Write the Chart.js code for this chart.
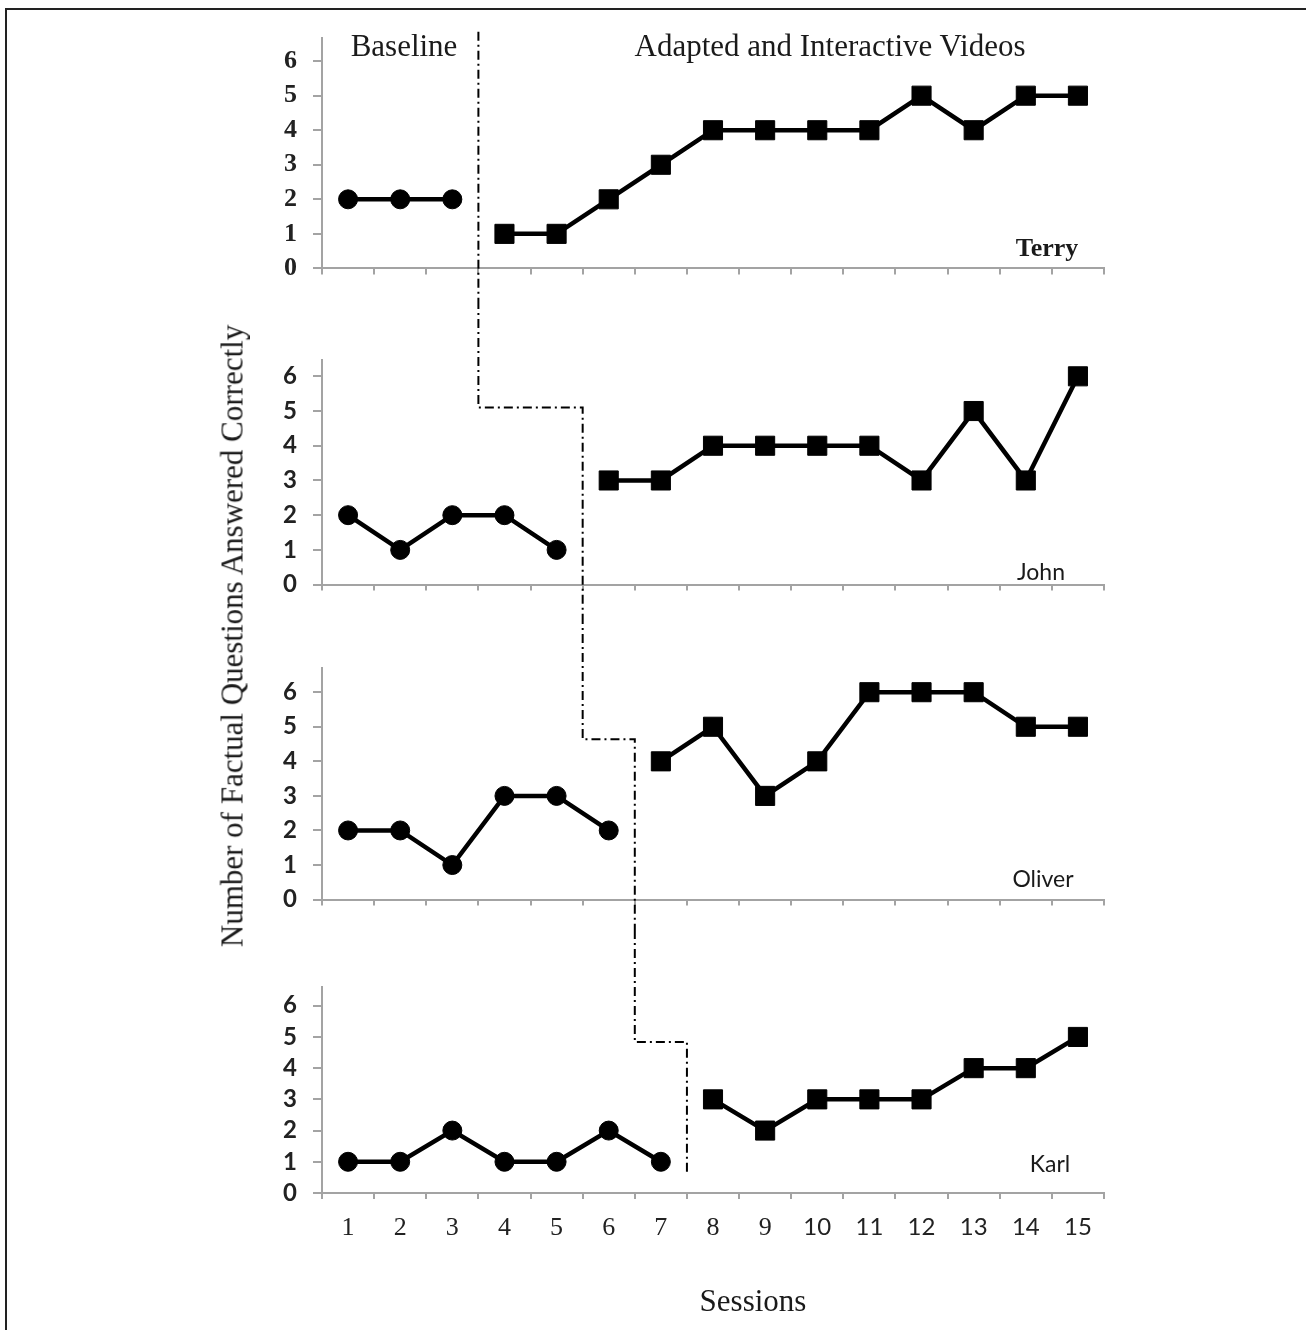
<!DOCTYPE html>
<html>
<head>
<meta charset="utf-8">
<script src="https://cdn.jsdelivr.net/npm/chart.js@4.4.1/dist/chart.umd.min.js"></script>
<style>
  html, body { margin: 0; background: #fff; width: 1306px; height: 1330px; overflow: hidden; }
  body { position: relative; }
  canvas { position: absolute; left: 0; }
  .rule { position: absolute; background: #222; }
  .lbl { position: absolute; white-space: nowrap; color: #1a1a1a; line-height: 1; transform: translate(-50%, -50%); }
  .serif { font-family: 'Liberation Serif', serif; }
  .sans { font-family: Lato, sans-serif; }
</style>
</head>
<body>
<div class="rule" style="left:5px; top:8px; width:1301px; height:2px"></div>
<div class="rule" style="left:5px; top:8px; width:2px; height:1322px"></div>
<canvas id="terry" width="1306" height="300" style="top:0px"></canvas>
<canvas id="john" width="1306" height="315" style="top:300px"></canvas>
<canvas id="oliver" width="1306" height="315" style="top:615px"></canvas>
<canvas id="karl" width="1306" height="400" style="top:930px"></canvas>

<div class="lbl serif" style="left:404px; top:45px; font-size:31px">Baseline</div>
<div class="lbl serif" style="left:830px; top:45px; font-size:31px">Adapted and Interactive Videos</div>
<div class="lbl serif" style="left:1047px; top:248px; font-size:26px; font-weight:bold">Terry</div>
<div class="lbl sans" style="left:1041px; top:571px; font-size:23px">John</div>
<div class="lbl sans" style="left:1043px; top:878px; font-size:23px">Oliver</div>
<div class="lbl sans" style="left:1050px; top:1163px; font-size:23px">Karl</div>
<div class="lbl serif" style="left:753px; top:1300px; font-size:31px">Sessions</div>
<div class="lbl serif" style="left:232px; top:636px; font-size:31px; transform: translate(-50%, -50%) rotate(-90deg)">Number of Factual Questions Answered Correctly</div>

<script>
const sessions = ['1', '2', '3', '4', '5', '6', '7', '8', '9', '10', '11', '12', '13', '14', '15'];

const terryBaseline = [2, 2, 2];
const terryVideos = [1, 1, 2, 3, 4, 4, 4, 4, 5, 4, 5, 5];
const johnBaseline = [2, 1, 2, 2, 1];
const johnVideos = [3, 3, 4, 4, 4, 4, 3, 5, 3, 6];
const oliverBaseline = [2, 2, 1, 3, 3, 2];
const oliverVideos = [4, 5, 3, 4, 6, 6, 6, 5, 5];
const karlBaseline = [1, 1, 2, 1, 1, 2, 1];
const karlVideos = [3, 2, 3, 3, 3, 4, 4, 5];

const yTicks = [0, 1, 2, 3, 4, 5, 6];
const yMax = [6.67, 6.47, 6.7, 6.6];

// phase change line: last baseline session it leaves from / steps to, and the level of the step
const phaseFrom = [3, 3, 5, 6];
const phaseTo = [3, 5, 6, 7];
const phaseStep = [null, 5.1, 4.64, 4.84];
const phaseStart = 6.85;
const phaseEnd = 0.64;

const AXIS = '#a3a3a3';
const SERIF = "'Liberation Serif', serif";
const SANS = 'Lato, sans-serif';

const phasePlugin = {
    id: 'phaseLine',
    afterDraw(chart, args, opts) {
        const { ctx, scales: { x, y } } = chart;
        const edge = s => (x.getPixelForValue(s - 1) + x.getPixelForValue(s)) / 2;
        const x1 = edge(opts.from);
        const x2 = edge(opts.to);
        const yTop = opts.start == null ? 0 : y.getPixelForValue(opts.start);
        const yEnd = opts.end == null ? chart.height : y.getPixelForValue(opts.end);
        ctx.save();
        ctx.strokeStyle = '#000';
        ctx.lineWidth = 2;
        ctx.setLineDash([9, 4, 2, 4]);
        ctx.beginPath();
        ctx.moveTo(x1, yTop);
        if (opts.step != null) {
            const ys = y.getPixelForValue(opts.step);
            ctx.lineTo(x1, ys);
            ctx.lineTo(x2, ys);
        }
        ctx.lineTo(x2, yEnd);
        ctx.stroke();
        ctx.restore();
    }
};

const pad = (vals, before) => {
    const empty = Array(sessions.length - vals.length).fill(null);
    return before ? empty.concat(vals) : vals.concat(empty);
};

const renderPanel = (id, i, baseline, videos, layout) => {
    const data = {
        labels: sessions,
        datasets: [{
            data: pad(baseline, false),
            borderColor: '#000',
            backgroundColor: '#000',
            borderWidth: 4.5,
            pointStyle: 'circle',
            pointRadius: 9.5,
            pointBorderWidth: 1,
            tension: 0
        }, {
            data: pad(videos, true),
            borderColor: '#000',
            backgroundColor: '#000',
            borderWidth: 4.5,
            pointStyle: 'rect',
            pointRadius: 13.5,
            pointBorderWidth: 1,
            tension: 0
        }]
    };
    const options = {
        responsive: false,
        animation: false,
        devicePixelRatio: 1,
        layout: { padding: { left: 272, right: 202, top: layout.top, bottom: layout.bottom } },
        plugins: {
            legend: { display: false },
            tooltip: { enabled: false },
            phaseLine: {
                from: phaseFrom[i],
                to: phaseTo[i],
                step: phaseStep[i],
                start: i === 0 ? phaseStart : null,
                end: i === 3 ? phaseEnd : null
            }
        },
        scales: {
            x: {
                type: 'category',
                offset: true,
                grid: { offset: true, drawOnChartArea: false, tickLength: 6, color: AXIS, lineWidth: 2 },
                border: { color: AXIS, width: 2 },
                ticks: {
                    display: layout.labels,
                    padding: 14,
                    color: '#222',
                    font: ctx => ctx.index < 9 ? { family: SERIF, size: 26 } : { family: SANS, size: 24 }
                },
                afterFit: s => { s.height = layout.xHeight; }
            },
            y: {
                min: 0,
                max: yMax[i],
                afterBuildTicks: s => { s.ticks = yTicks.map(v => ({ value: v })); },
                grid: { drawOnChartArea: false, tickLength: 9, color: AXIS, lineWidth: 2 },
                border: { color: AXIS, width: 2 },
                ticks: {
                    padding: 16,
                    color: '#222',
                    font: { family: i === 0 ? SERIF : SANS, size: i === 0 ? 26 : 24, weight: 'bold' }
                },
                afterFit: s => { s.width = 50; }
            }
        }
    };
    new Chart(id, { type: 'line', data, options, plugins: [phasePlugin] });
};

renderPanel('terry', 0, terryBaseline, terryVideos, { top: 38, bottom: 13, xHeight: 10, labels: false });
renderPanel('john', 1, johnBaseline, johnVideos, { top: 60, bottom: 13, xHeight: 10, labels: false });
renderPanel('oliver', 2, oliverBaseline, oliverVideos, { top: 53, bottom: 11, xHeight: 10, labels: false });
renderPanel('karl', 3, karlBaseline, karlVideos, { top: 57, bottom: 87, xHeight: 50, labels: true });
</script>
</body>
</html>
